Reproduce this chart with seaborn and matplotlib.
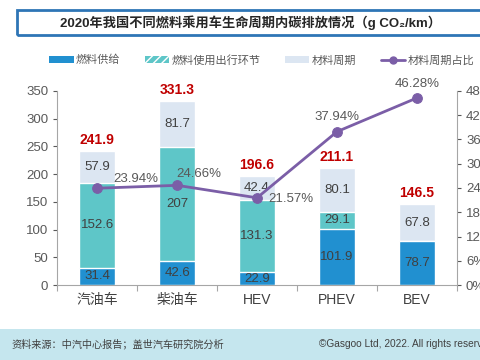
import numpy as np
import pandas as pd
import matplotlib
matplotlib.use('Agg')
import matplotlib.pyplot as plt
from matplotlib.patches import Rectangle, Patch
from matplotlib.lines import Line2D
import seaborn as sns

# data
categories = ['汽油车', '柴油车', 'HEV', 'PHEV', 'BEV']
fuel_supply = [31.4, 42.6, 22.9, 101.9, 78.7]
fuel_use = [152.6, 207, 131.3, 29.1, 0]
material = [57.9, 81.7, 42.4, 80.1, 67.8]
totals = [241.9, 331.3, 196.6, 211.1, 146.5]
material_share = [23.94, 24.66, 21.57, 37.94, 46.28]
left_ticks = [0, 50, 100, 150, 200, 250, 300, 350]
right_ticks = [0, 6, 12, 18, 24, 30, 36, 42, 48]

C_SUPPLY = '#2190d0'
C_USE = '#5ec6c8'
C_MAT = '#dce6f2'
C_LINE = '#7b5ea7'
C_TEXT = '#404040'

sns.set_style('white')
plt.rcParams['font.family'] = ['Liberation Sans', 'Noto Sans CJK SC', 'DejaVu Sans']

df = pd.DataFrame({
    'cat': categories,
    'supply': fuel_supply,
    'use': fuel_use,
    'mat': material,
})
df['lvl1'] = df['supply']
df['lvl2'] = df['supply'] + df['use']
df['lvl3'] = df['lvl2'] + df['mat']

fig = plt.figure(figsize=(4.8, 3.6), dpi=100)
ax = fig.add_axes([0.119, 0.2083, 0.833, 0.539])

# stacked bars drawn from the top layer down
bw = 0.46
sns.barplot(data=df, x='cat', y='lvl3', color=C_MAT, width=bw, saturation=1, ax=ax)
sns.barplot(data=df, x='cat', y='lvl2', color=C_USE, width=bw, saturation=1, ax=ax)
sns.barplot(data=df, x='cat', y='lvl1', color=C_SUPPLY, width=bw, saturation=1, ax=ax)

# segment labels
for i in range(len(categories)):
    bottoms = [0, df['lvl1'][i], df['lvl2'][i]]
    vals = [fuel_supply[i], fuel_use[i], material[i]]
    for b, v in zip(bottoms, vals):
        if v <= 0:
            continue
        ax.text(i, b + v / 2, f'{v:g}', ha='center', va='center',
                fontsize=9.5, color=C_TEXT)
    ax.annotate(f'{totals[i]:g}', (i, totals[i]), xytext=(0, 3),
                textcoords='offset points', ha='center', va='bottom',
                fontsize=10, fontweight='bold', color='#c00000')

ax.set_xlim(-0.5, 4.5)
ax.set_ylim(0, 350)
ax.set_yticks(left_ticks)
ax.set_xlabel('')
ax.set_ylabel('')
ax.tick_params(axis='y', labelsize=9.5, colors='#595959', length=3, width=0.8, left=True)
ax.tick_params(axis='x', which='major', labelsize=10, colors=C_TEXT, length=0, pad=6)
ax.set_xticks(np.arange(-0.5, 5, 1), minor=True)
ax.tick_params(axis='x', which='minor', length=4, width=0.8, color='#a6a6a6', bottom=True)
for s in ['top', 'right']:
    ax.spines[s].set_visible(False)
for s in ['left', 'bottom']:
    ax.spines[s].set_color('#a6a6a6')
    ax.spines[s].set_linewidth(0.8)

# share line on the right axis
ax2 = ax.twinx()
xs = np.arange(len(categories))
sns.lineplot(x=xs, y=material_share, color=C_LINE, linewidth=2, marker='o',
             markersize=7, markeredgecolor=C_LINE, ax=ax2)
ax2.set_ylim(0, 48)
ax2.set_yticks(right_ticks)
ax2.set_yticklabels([f'{t}%' for t in right_ticks])
ax2.tick_params(axis='y', labelsize=9.5, colors='#595959', length=3, width=0.8, right=True)
for s in ['top', 'left', 'bottom']:
    ax2.spines[s].set_visible(False)
ax2.spines['right'].set_color('#a6a6a6')
ax2.spines['right'].set_linewidth(0.8)

pct_offsets = [(39, 9, 'center'), (22, 11, 'center'), (11, -1, 'left'),
               (0, 15, 'center'), (0, 14, 'center')]
for i, v in enumerate(material_share):
    dx, dy, ha = pct_offsets[i]
    ax2.annotate(f'{v:.2f}%', (i, v), xytext=(dx, dy), textcoords='offset pixels',
                 ha=ha, va='center', fontsize=9.5, color='#595959')

# title box
fig.patches.append(Rectangle((17 / 480, 1 - 35 / 360), 1.0, 25 / 360,
                             transform=fig.transFigure, fill=False,
                             edgecolor='#2e75b6', linewidth=2))
fig.text(250 / 480, 1 - 22.5 / 360, '2020年我国不同燃料乘用车生命周期内碳排放情况（g CO₂/km）',
         ha='center', va='center', fontsize=9.5, fontweight='bold', color='#262626')

# legend
handles = [
    Patch(facecolor=C_SUPPLY, edgecolor='none'),
    Patch(facecolor=C_USE, edgecolor='white', hatch='////', linewidth=0),
    Patch(facecolor=C_MAT, edgecolor='none'),
    Line2D([0], [0], color=C_LINE, linewidth=2, marker='o', markersize=5),
]
labels = ['燃料供给', '燃料使用出行环节', '材料周期', '材料周期占比']
fig.legend(handles, labels, loc='center', bbox_to_anchor=(0.545, 1 - 60 / 360),
           ncol=4, frameon=False, fontsize=8, handlelength=2.2, handleheight=0.6,
           handletextpad=0.2, columnspacing=2.2, labelcolor='#595959')

# footer band
fig.patches.append(Rectangle((0, 0), 1, 1 - 329 / 360, transform=fig.transFigure,
                             facecolor='#c5e6ee', edgecolor='none', zorder=0))
fig.text(11 / 480, 1 - 344 / 360, '资料来源：中汽中心报告；盖世汽车研究院分析',
         ha='left', va='center', fontsize=7.3, color='#404040')
fig.text(319 / 480, 1 - 344 / 360, '©Gasgoo Ltd, 2022. All rights reserved.',
         ha='left', va='center', fontsize=7.3, color='#404040')

fig.savefig('out.png', dpi=100)
